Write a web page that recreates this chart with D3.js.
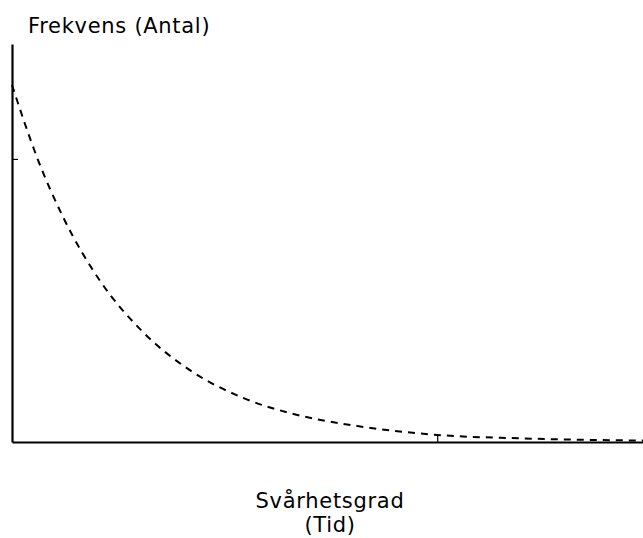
<!DOCTYPE html>
<html>
<head>
<meta charset="utf-8">
<script src="https://cdn.jsdelivr.net/npm/d3@7"></script>
<style>
  html, body { margin: 0; padding: 0; background: #fff; }
  svg { display: block; }
  text { font-family: "DejaVu Sans", "Noto Sans", sans-serif; font-weight: 400; fill: #000; letter-spacing: 0.7px; }
</style>
</head>
<body>
<svg id="chart" width="643" height="538"></svg>
<script>
// Data (arbitrary units; tick at 1 on each axis)
const curveX = [0, 0.061, 0.120, 0.209, 0.303, 0.420, 0.545, 0.662, 0.819, 1.0, 1.195, 1.484];
const curveY = [1.261, 0.997, 0.795, 0.565, 0.396, 0.252, 0.155, 0.099, 0.055, 0.025, 0.013, 0.005];
const xTicks = [1];
const yTicks = [1];
const xDomain = [0, 1.484];
const yDomain = [0, 1.406];
const yLabel = "Frekvens (Antal)";
const xLabelLines = ["Svårhetsgrad", "(Tid)"];

(function () {
  const svg = d3.select("#chart");
  const mLeft = 12, mRight = 643, mTop = 44, mBottom = 442;

  const x = d3.scaleLinear().domain(xDomain).range([mLeft, mRight]);
  const y = d3.scaleLinear().domain(yDomain).range([mBottom, mTop]);

  // Axes
  const xAxis = d3.axisBottom(x).tickValues(xTicks).tickSizeInner(-6).tickSizeOuter(0).tickFormat("");
  const yAxis = d3.axisLeft(y).tickValues(yTicks).tickSizeInner(-6).tickSizeOuter(0).tickFormat("");

  const gx = svg.append("g").attr("transform", `translate(0,${mBottom})`).call(xAxis);
  const gy = svg.append("g").attr("transform", `translate(${mLeft},0)`).call(yAxis);
  [gx, gy].forEach(g => {
    g.select(".domain").attr("stroke", "#000").attr("stroke-width", 2.2);
    g.selectAll(".tick line").attr("stroke", "#000").attr("stroke-width", 1.2);
  });

  // Dashed curve
  const pts = curveX.map((d, i) => [d, curveY[i]]);
  const line = d3.line().x(d => x(d[0])).y(d => y(d[1])).curve(d3.curveMonotoneX);
  svg.append("path")
    .datum(pts)
    .attr("d", line)
    .attr("fill", "none")
    .attr("stroke", "#000")
    .attr("stroke-width", 2)
    .attr("stroke-dasharray", "7,6");

  // Labels
  svg.append("text")
    .attr("x", 28).attr("y", 33)
    .attr("font-size", 21)
    .text(yLabel);

  const xl = svg.append("text")
    .attr("text-anchor", "middle")
    .attr("font-size", 21);
  xLabelLines.forEach((t, i) => {
    xl.append("tspan").attr("x", 330).attr("y", 508 + i * 24).text(t);
  });
})();
</script>
</body>
</html>
